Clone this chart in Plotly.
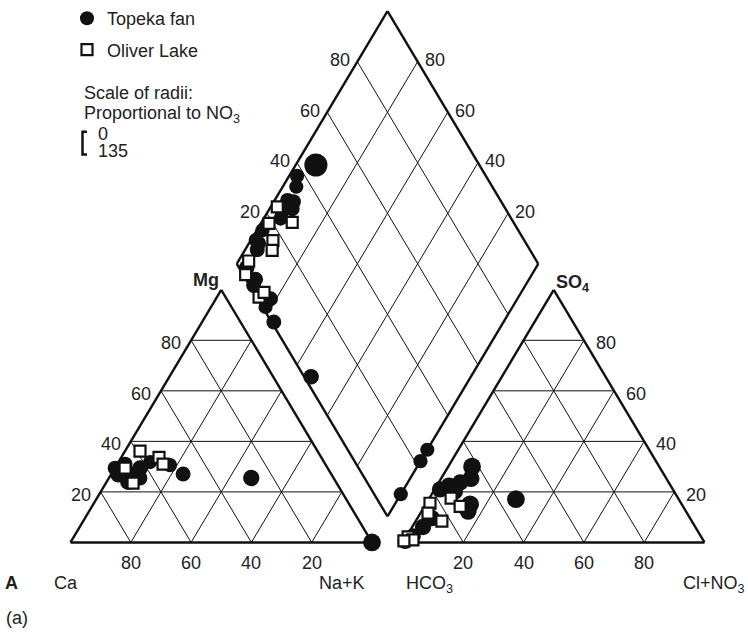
import math
import plotly.graph_objects as go

# ------------------------------------------------------------------
# DATA (percent values)
# ------------------------------------------------------------------
# Topeka fan (filled circles) -- cation triangle: Ca, Mg, Na+K (%) and NO3
topeka_cat_ca  = [70.9, 66.4, 66.1, 62.2, 57.7, 51.7, 49.1, 27.3, 70.5, 69.0, 64.2, 0.0]
topeka_cat_mg  = [26.7, 31.0, 27.1, 29.4, 31.8, 30.6, 27.1, 25.5, 29.4, 23.9, 25.5, 0.0]
topeka_cat_nak = [2.4, 2.6, 6.8, 8.4, 10.5, 17.7, 23.8, 47.2, 0.1, 7.1, 10.3, 100.0]
topeka_cat_no3 = [42, 42, 44, 44, 40, 40, 42, 46, 42, 44, 42, 50]

# Topeka fan -- anion triangle: HCO3, SO4, Cl+NO3 (%) and NO3
topeka_an_hco3 = [62.1, 64.8, 69.2, 73.5, 77.2, 70.2, 72.2, 85.6, 90.3, 54.0, 95.4, 72.7, 99.0]
topeka_an_so4  = [30.0, 25.3, 23.7, 22.5, 21.0, 15.1, 12.4, 9.6, 6.1, 17.1, 2.5, 20.2, 0.5]
topeka_an_cl   = [7.9, 9.9, 7.1, 4.0, 1.8, 14.7, 15.4, 4.8, 3.6, 28.9, 2.1, 7.1, 0.5]
topeka_an_no3  = [50, 48, 46, 46, 46, 50, 48, 46, 46, 50, 44, 46, 44]

# Topeka fan -- diamond: Na+K (%) and SO4+Cl (%) and NO3
topeka_dm_nak  = [6.7, 2.6, 4.5, 4.3, 7.5, 4.7, 5.6, 3.2, 4.0, 4.1, 9.9, 9.3, 18.1, 18.1, 23.8, 47.0,
                  100.0, 100.0, 100.0, 1.9, 1.6, 6.5]
topeka_dm_so4cl = [45.8, 37.4, 35.0, 29.4, 29.3, 25.4, 23.5, 11.3, 9.6, 2.5, 1.3, 3.2, 4.3, 1.0, 0.8, 2.3,
                   26.4, 21.9, 8.8, 15.2, 11.0, 31.1]
topeka_dm_no3  = [65, 40, 40, 42, 42, 42, 40, 42, 42, 44, 42, 42, 42, 40, 42, 44,
                  40, 40, 40, 40, 40, 42]

# Oliver Lake (open squares)
oliver_cat_ca  = [58.9, 53.8, 53.8, 67.5, 67.2]
oliver_cat_mg  = [36.1, 33.7, 31.0, 23.5, 29.4]
oliver_cat_nak = [5.0, 12.5, 15.2, 9.0, 3.4]

oliver_an_hco3 = [75.3, 83.3, 82.9, 85.9, 73.9, 97.2, 96.2, 99.4]
oliver_an_so4  = [17.5, 15.5, 8.4, 11.6, 14.3, 2.2, 1.0, 0.6]
oliver_an_cl   = [7.2, 1.2, 8.7, 2.5, 11.8, 0.6, 2.8, 0.0]

oliver_dm_nak   = [2.2, 10.2, 2.7, 7.4, 3.4, 5.1, 14.0, 14.7, 9.1]
oliver_dm_so4cl = [24.7, 26.6, 18.7, 16.6, 4.5, 0.8, 0.8, 3.4, 14.4]

grid_ticks = [20, 40, 60, 80]
legend_scale = ["0", "135"]

# ------------------------------------------------------------------
# Piper geometry (triangle side = 1 unit)
# ------------------------------------------------------------------
h = math.sqrt(3) / 2
g = 0.1028                      # gap between the triangles
Lv = (0.5 + g / 2, h * (1 + g))  # diamond left vertex
e1 = (0.5, h)                    # diamond: towards top vertex
e2 = (0.5, -h)                   # diamond: towards bottom vertex
Tv = (Lv[0] + e1[0], Lv[1] + e1[1])
Rv = (Lv[0] + e1[0] + e2[0], Lv[1] + e1[1] + e2[1])
Bv = (Lv[0] + e2[0], Lv[1] + e2[1])
ox = 1 + g                      # anion triangle x offset


def cation_xy(ca, mg, nak):
    xs, ys = [], []
    for a, m, n in zip(ca, mg, nak):
        t = a + m + n
        m, n = m / t, n / t
        xs.append(n + m / 2)
        ys.append(m * h)
    return xs, ys


def anion_xy(hco3, so4, cl):
    xs, ys = [], []
    for b, s, c in zip(hco3, so4, cl):
        t = b + s + c
        s, c = s / t, c / t
        xs.append(ox + c + s / 2)
        ys.append(s * h)
    return xs, ys


def diamond_xy(nak, so4cl):
    xs, ys = [], []
    for p, s in zip(nak, so4cl):
        p, s = p / 100, s / 100
        xs.append(Lv[0] + s * e1[0] + p * e2[0])
        ys.append(Lv[1] + s * e1[1] + p * e2[1])
    return xs, ys


def size_from_no3(v):
    return [x * 48 / 135 for x in v]   # diameter in px (radius 24 px = 135)


fig = go.Figure()


def add_lines(segs, width):
    xs, ys = [], []
    for (a, b) in segs:
        xs += [a[0], b[0], None]
        ys += [a[1], b[1], None]
    fig.add_trace(go.Scatter(x=xs, y=ys, mode="lines", line=dict(color="#111", width=width),
                             hoverinfo="skip", showlegend=False))


# grid lines
grid = []
for t in grid_ticks:
    f = t / 100
    for dx in (0, ox):
        grid.append(((dx + f / 2, f * h), (dx + 1 - f / 2, f * h)))
        grid.append(((dx + f, 0), (dx + f + (1 - f) / 2, (1 - f) * h)))
        grid.append(((dx + 1 - f, 0), (dx + (1 - f) / 2, (1 - f) * h)))
    a = (Lv[0] + f * e1[0], Lv[1] + f * e1[1])
    grid.append((a, (a[0] + e2[0], a[1] + e2[1])))
    b = (Lv[0] + f * e2[0], Lv[1] + f * e2[1])
    grid.append((b, (b[0] + e1[0], b[1] + e1[1])))
add_lines(grid, 1)

outline = []
for dx in (0, ox):
    outline += [((dx, 0), (dx + 1, 0)), ((dx + 1, 0), (dx + 0.5, h)), ((dx + 0.5, h), (dx, 0))]
outline += [(Lv, Tv), (Tv, Rv), (Rv, Bv), (Bv, Lv)]
add_lines(outline, 2.4)

# circles (Topeka fan)
cx1, cy1 = cation_xy(topeka_cat_ca, topeka_cat_mg, topeka_cat_nak)
cx2, cy2 = anion_xy(topeka_an_hco3, topeka_an_so4, topeka_an_cl)
cx3, cy3 = diamond_xy(topeka_dm_nak, topeka_dm_so4cl)
fig.add_trace(go.Scatter(
    x=cx1 + cx2 + cx3, y=cy1 + cy2 + cy3, mode="markers", showlegend=False,
    marker=dict(symbol="circle", color="#111", opacity=1, line=dict(width=0),
                size=size_from_no3(topeka_cat_no3 + topeka_an_no3 + topeka_dm_no3)),
    hoverinfo="skip"))

# squares (Oliver Lake)
sx1, sy1 = cation_xy(oliver_cat_ca, oliver_cat_mg, oliver_cat_nak)
sx2, sy2 = anion_xy(oliver_an_hco3, oliver_an_so4, oliver_an_cl)
sx3, sy3 = diamond_xy(oliver_dm_nak, oliver_dm_so4cl)
fig.add_trace(go.Scatter(
    x=sx1 + sx2 + sx3, y=sy1 + sy2 + sy3, mode="markers", showlegend=False,
    marker=dict(symbol="square", color="white", opacity=1, size=11,
                line=dict(color="#111", width=2.2)),
    hoverinfo="skip"))

# legend entries
fig.add_trace(go.Scatter(x=[None], y=[None], mode="markers", name="Topeka fan", legendgroup="a",
                         marker=dict(symbol="circle", color="#111", size=14, line=dict(width=0))))
fig.add_trace(go.Scatter(x=[None], y=[None], mode="markers", name="Oliver Lake", legendgroup="b",
                         marker=dict(symbol="square", color="white", size=11,
                                     line=dict(color="#111", width=2.2))))

FONT = "Liberation Sans, Arial, sans-serif"
FS = 18
TC = "#222"
ann = []


def label(x, y, text, xanchor="center", xshift=0, yshift=0, ref="data"):
    d = dict(x=x, y=y, text=text, showarrow=False, xanchor=xanchor, yanchor="middle",
             xshift=xshift, yshift=yshift, font=dict(family=FONT, size=FS, color=TC))
    if ref == "px":
        d.update(x=x / 748, y=1 - y / 641, xref="paper", yref="paper")
    ann.append(d)


for t in grid_ticks:
    f = t / 100
    label(f, 0, str(100 - t), yshift=-21)                       # Ca axis
    label(f / 2, f * h, str(t), xanchor="right", xshift=-8, yshift=-3)   # Mg axis
    label(ox + f, 0, str(t), yshift=-21)                        # Cl axis
    label(ox + 1 - f / 2, f * h, str(t), xanchor="left", xshift=10, yshift=-3)  # SO4 axis
    p = (Lv[0] + f * e1[0], Lv[1] + f * e1[1])
    label(p[0], p[1], str(t), xanchor="right", xshift=-5, yshift=1.5)
    q = (Tv[0] + (1 - f) * e2[0], Tv[1] + (1 - f) * e2[1])
    label(q[0], q[1], str(t), xanchor="left", xshift=5, yshift=1.5)

label(0.5, h, "<b>Mg</b>", xanchor="right", xshift=0, yshift=10)
label(ox + 0.5, h, "<b>SO<sub>4</sub></b>", xanchor="left", xshift=0, yshift=6)

label(11, 582, "<b>A</b>", ref="px")
label(52, 582, "Ca", xanchor="left", ref="px")
label(342, 582, "Na+K", ref="px")
label(404, 584, "HCO<sub>3</sub>", xanchor="left", ref="px")
label(747, 584, "Cl+NO<sub>3</sub>", xanchor="right", ref="px")
label(4, 618, "(a)", xanchor="left", ref="px")

label(82, 88, "Scale of radii:", xanchor="left", ref="px")
label(82, 110, "Proportional to NO<sub>3</sub>", xanchor="left", ref="px")
label(96, 129, legend_scale[0], xanchor="left", ref="px")
label(96, 146, legend_scale[1], xanchor="left", ref="px")


def pp(x, y):
    return f"{x / 748:.5f},{1 - y / 641:.5f}"


shapes = [dict(type="path", xref="paper", yref="paper",
               path=f"M {pp(87, 127)} L {pp(82.5, 127)} L {pp(82.5, 150)} L {pp(87, 150)}",
               line=dict(color="#111", width=2.5))]

fig.update_layout(
    width=748, height=641, autosize=False,
    margin=dict(l=0, r=0, t=0, b=0, pad=0),
    paper_bgcolor="white", plot_bgcolor="white",
    xaxis=dict(range=[-70.5 / 301.5, (748 - 70.5) / 301.5], visible=False, fixedrange=True),
    yaxis=dict(range=[(541.5 - 641) / 294.5, 541.5 / 294.5], visible=False, fixedrange=True),
    annotations=ann, shapes=shapes,
    showlegend=True,
    legend=dict(x=67 / 748, xanchor="left", y=1 + 6 / 641, yanchor="top",
                font=dict(family=FONT, size=FS, color=TC), bgcolor="rgba(0,0,0,0)",
                borderwidth=0, tracegroupgap=5, traceorder="grouped", itemsizing="trace"),
)

fig.write_html("out.html", config={"displayModeBar": False},
               post_script="document.body.style.margin='0';")
